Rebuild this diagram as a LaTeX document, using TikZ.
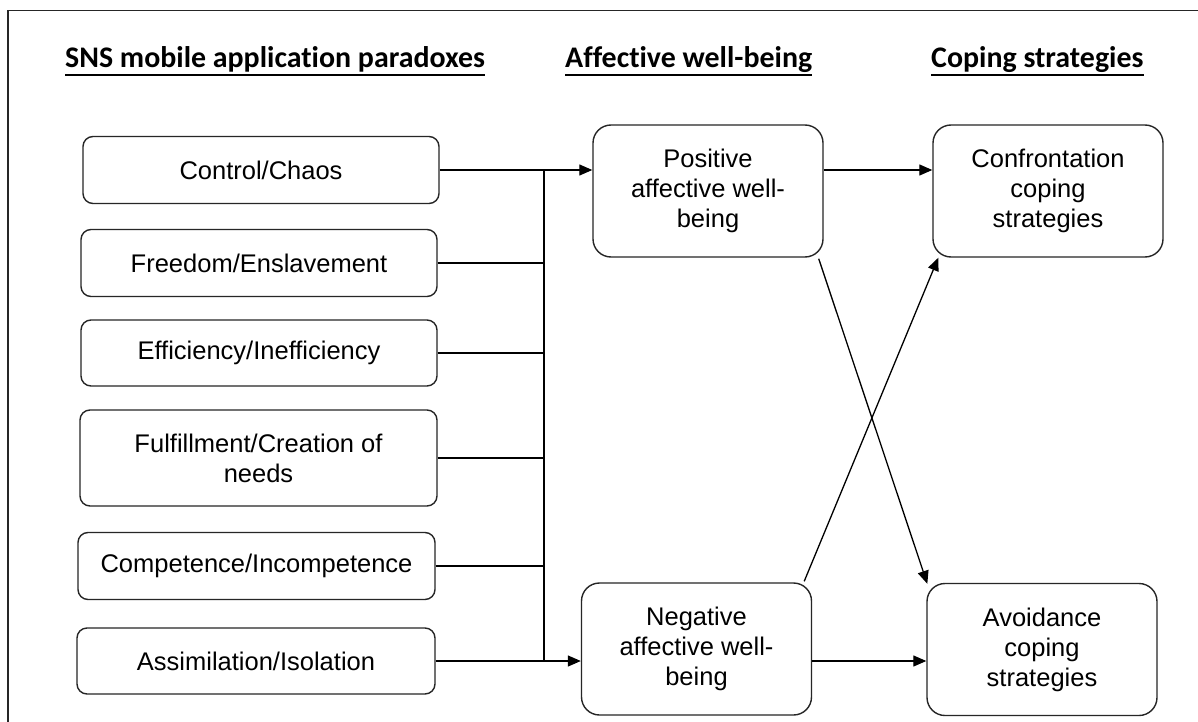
\documentclass[tikz,border=0pt]{standalone}
\usepackage{fontspec}
\setmainfont{Liberation Sans}
\newfontfamily\titlefont{Carlito}[Ligatures=NoCommon]
\usetikzlibrary{arrows.meta,calc}
\begin{document}
\begin{tikzpicture}[x=1pt,y=-1pt,
  lbox/.style={draw=black!85, line width=1.4pt, rounded corners=10pt, align=center,
    font=\fontsize{25.5}{30}\selectfont, inner sep=0pt},
  rbox/.style={draw=black!85, line width=1.4pt, rounded corners=18pt, align=center,
    font=\fontsize{25.5}{30}\selectfont, inner sep=0pt, minimum width=230pt, minimum height=132pt},
  ttl/.style={font=\titlefont\bfseries\fontsize{29.9}{34}\selectfont, inner sep=0pt, anchor=base west},
  uline/.style={line width=2.6pt},
  conn/.style={line width=1.3pt},
  arr/.style={line width=1.3pt, -{Triangle[length=13pt,width=11pt]}}
]
\useasboundingbox (0,0) rectangle (1198,722);
\fill[white] (0,0) rectangle (1198,722);
% outer frame (extends past the right and bottom edges)
\draw[line width=1.5pt, black!85] (8,10.5) rectangle (1230,760);

% titles
\node[ttl] (t1) at (65,68) {SNS mobile application paradoxes};
\node[ttl] (t2) at (565,68) {Affective well-being};
\node[ttl] (t3) at (931,68) {Coping strategies};
\foreach \t in {t1,t2,t3}{
  \draw[uline] ($(\t.base west)+(0,7)$) -- ($(\t.base east)+(0,7)$);
}

% left column
\node[lbox, minimum width=356pt, minimum height=67pt] (ctrl) at (261,170) {Control/Chaos};
\node[lbox, minimum width=356pt, minimum height=67pt] (free) at (259,263) {Freedom/Enslavement};
\node[lbox, minimum width=356pt, minimum height=66pt] (eff) at (259,353) {Efficiency/Inefficiency};
\node[lbox, minimum width=357pt, minimum height=96pt] (fulf) at (258.5,458) {Fulfillment/Creation of\\needs};
\node[lbox, minimum width=357pt, minimum height=67pt] (comp) at (256.5,566) {Competence/Incompetence};
\node[lbox, minimum width=358pt, minimum height=66pt] (assim) at (256,661) {Assimilation/Isolation};

% middle and right columns
\node[rbox] (pos) at (708,191) {Positive\\affective well-\\being};
\node[rbox] (neg) at (696.5,649) {Negative\\affective well-\\being};
\node[rbox] (conf) at (1048,191) {Confrontation\\coping\\strategies};
\node[rbox] (avoid) at (1042,649.5) {Avoidance\\coping\\strategies};

% bus
\coordinate (bustop) at (544,170);
\coordinate (busbot) at (544,661);
\draw[conn] (bustop) -- (busbot);
\foreach \n in {free,eff,fulf,comp}{
  \draw[conn] (\n.east) -- (\n.east -| bustop);
}
\draw[arr] (ctrl.east) -- (ctrl.east -| pos.west);
\draw[arr] (assim.east) -- (assim.east -| neg.west);

% to coping strategies
\draw[arr] (pos.east |- ctrl.east) -- (conf.west |- ctrl.east);
\draw[arr] (neg.east |- assim.east) -- (avoid.west |- assim.east);
\draw[arr] ($(pos.south east)+(-5,1)$) -- ($(avoid.north west)+(1,1)$);
\draw[arr] ($(neg.north east)+(-8,-1)$) -- ($(conf.south west)+(6,0)$);
\end{tikzpicture}
\end{document}
